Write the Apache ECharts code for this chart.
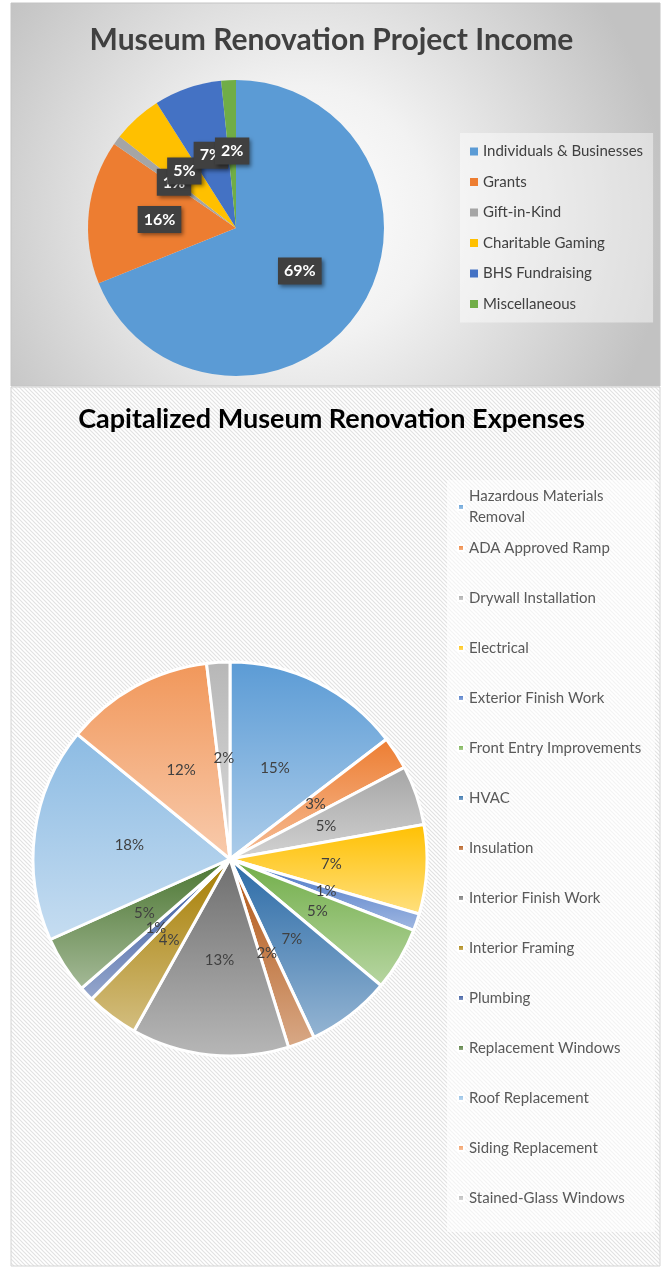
<!DOCTYPE html>
<html><head><meta charset="utf-8">
<script src="https://cdn.jsdelivr.net/npm/echarts@6/dist/echarts.min.js"></script>
<style>html,body{margin:0;padding:0;background:#fff;}#c{width:663px;height:1276px;}</style>
</head><body><div id="c"></div>
<script>
// ---- data ----
const incomeTitle = 'Museum Renovation Project Income';
const incomeCategories = ['Individuals & Businesses', 'Grants', 'Gift-in-Kind', 'Charitable Gaming', 'BHS Fundraising', 'Miscellaneous'];
const incomeValues = [68.9, 15.7, 1.0, 5.4, 7.4, 1.6];

const expenseTitle = 'Capitalized Museum Renovation Expenses';
const expenseCategories = ['Hazardous Materials Removal', 'ADA Approved Ramp', 'Drywall Installation', 'Electrical', 'Exterior Finish Work', 'Front Entry Improvements', 'HVAC', 'Insulation', 'Interior Finish Work', 'Interior Framing', 'Plumbing', 'Replacement Windows', 'Roof Replacement', 'Siding Replacement', 'Stained-Glass Windows'];
const expenseValues = [14.6, 2.7, 4.9, 7.3, 1.4, 5.2, 6.9, 2.2, 12.9, 4.3, 1.2, 4.7, 17.6, 12.2, 1.9];

// ---- styles ----
const incomeColors = ['#5b9bd5', '#ed7d31', '#a5a5a5', '#ffc000', '#4472c4', '#70ad47'];
const expenseColors = ['#5b9bd5', '#ed7d31', '#a5a5a5', '#ffc000', '#4472c4', '#70ad47', '#2a6aa6', '#b0520f', '#6e6e6e', '#a67d00', '#2f519a', '#4a7530', '#8cbbe3', '#f1975a', '#b7b7b7'];
const FONT = 'Lato, "Open Sans", sans-serif';

function tint(hex, a) {
  const n = parseInt(hex.slice(1), 16);
  const r = (n >> 16) & 255, g = (n >> 8) & 255, b = n & 255;
  const m = v => Math.round(v + (255 - v) * a);
  return 'rgb(' + m(r) + ',' + m(g) + ',' + m(b) + ')';
}

// diagonal stripe pattern
const pc = document.createElement('canvas');
pc.width = 4; pc.height = 4;
const g2 = pc.getContext('2d');
g2.fillStyle = '#ffffff'; g2.fillRect(0, 0, 4, 4);
g2.strokeStyle = '#e2e2e2'; g2.lineWidth = 1.2;
g2.beginPath();
g2.moveTo(-1, -1); g2.lineTo(5, 5);
g2.moveTo(-1, 3); g2.lineTo(1, 5);
g2.moveTo(3, -1); g2.lineTo(5, 1);
g2.stroke();

const chart = echarts.init(document.getElementById('c'), null, { renderer: 'canvas' });

const legendText = { fontFamily: FONT, fontSize: 15, color: '#595959', lineHeight: 21 };

const option = {
  animation: false,
  graphic: {
    elements: [
      {
        type: 'rect', z: -10,
        shape: { x: 11, y: 3, width: 649, height: 383 },
        style: {
          fill: new echarts.graphic.RadialGradient(0.45, 0.55, 0.95, [
            { offset: 0, color: '#ffffff' },
            { offset: 0.35, color: '#f2f2f2' },
            { offset: 1, color: '#c2c2c2' }
          ]),
          stroke: '#c4c4c4', lineWidth: 1
        }
      },
      {
        type: 'rect', z: -10,
        shape: { x: 11, y: 387, width: 649, height: 879 },
        style: { fill: { image: pc, repeat: 'repeat' }, stroke: '#d4d4d4', lineWidth: 1 }
      },
      {
        type: 'rect', z: -9,
        shape: { x: 447, y: 480, width: 208, height: 752 },
        style: { fill: 'rgba(255,255,255,0.6)' }
      }
    ]
  },
  title: [
    {
      text: incomeTitle, left: 'center', top: 20, padding: [5, 0, 5, 9],
      textStyle: { fontFamily: FONT, fontWeight: 'bold', fontSize: 30, color: '#404040' }
    },
    {
      text: expenseTitle, left: 'center', top: 401, padding: [5, 0, 5, 9],
      textStyle: { fontFamily: FONT, fontWeight: 'bold', fontSize: 27, color: '#000000' }
    }
  ],
  legend: [
    {
      orient: 'vertical', left: 460, top: 133, data: incomeCategories, selectedMode: false,
      icon: 'rect', itemWidth: 8, itemHeight: 8, itemGap: 13.5,
      padding: [10, 10, 10, 10], backgroundColor: 'rgba(255,255,255,0.45)',
      textStyle: { fontFamily: FONT, fontSize: 15, color: '#404040', lineHeight: 17 }
    },
    {
      orient: 'vertical', left: 447, top: 480, data: expenseCategories.slice(0, 1), selectedMode: false,
      icon: 'rect', itemWidth: 6, itemHeight: 6,
      padding: [6, 14, 0, 10],
      formatter: name => name.replace('Materials ', 'Materials\n'),
      textStyle: legendText
    },
    {
      orient: 'vertical', left: 447, top: 537.5, data: expenseCategories.slice(1), selectedMode: false,
      icon: 'rect', itemWidth: 6, itemHeight: 6, itemGap: 29,
      padding: [0, 14, 0, 10],
      textStyle: legendText
    }
  ],
  series: [
    {
      type: 'pie', center: [236, 228], radius: 148, startAngle: 90, clockwise: true,
      avoidLabelOverlap: false,
      labelLayout: { hideOverlap: false },
      data: incomeCategories.map((n, i) => ({ name: n, value: incomeValues[i], itemStyle: { color: incomeColors[i] } })),
      label: {
        show: true, position: 'inside',
        formatter: p => Math.round(p.percent) + '%',
        fontFamily: FONT, fontWeight: 'bold', fontSize: 16, color: '#ffffff',
        backgroundColor: '#404040', padding: [6, 6, 5, 6],
        shadowColor: 'rgba(0,0,0,0.45)', shadowBlur: 4, shadowOffsetX: 2, shadowOffsetY: 2
      },
      labelLine: { show: false },
      emphasis: { disabled: true }
    },
    {
      type: 'pie', center: [230, 859], radius: 197, startAngle: 90, clockwise: true,
      avoidLabelOverlap: false,
      labelLayout: { hideOverlap: false },
      data: expenseCategories.map((n, i) => ({
        name: n, value: expenseValues[i],
        itemStyle: {
          color: new echarts.graphic.LinearGradient(0, 0, 0, 1, [
            { offset: 0, color: expenseColors[i] },
            { offset: 1, color: tint(expenseColors[i], 0.5) }
          ])
        }
      })),
      itemStyle: { borderColor: '#ffffff', borderWidth: 3 },
      label: {
        show: true, position: 'inside',
        formatter: p => Math.round(p.percent) + '%',
        fontFamily: FONT, fontSize: 15, color: '#404040'
      },
      labelLine: { show: false },
      emphasis: { disabled: true }
    }
  ]
};
chart.setOption(option);
</script>
</body></html>
